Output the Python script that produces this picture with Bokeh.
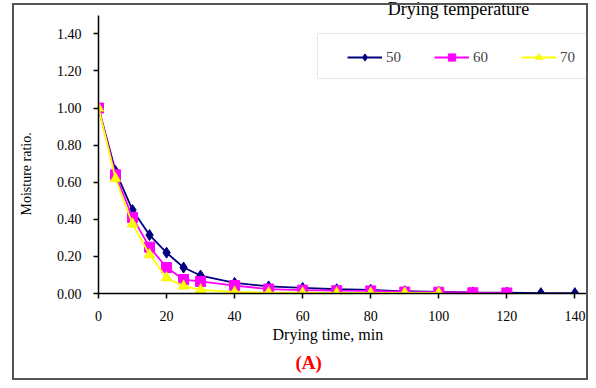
from bokeh.plotting import figure
from bokeh.models import (Legend, LegendItem, Label, BoxAnnotation, FixedTicker,
                          NumeralTickFormatter, Range1d, Title, InlineStyleSheet)
from bokeh.embed import file_html
from bokeh.resources import INLINE

# ---- data ----
time_50 = [0, 5, 10, 15, 20, 25, 30, 40, 50, 60, 70, 80, 90, 100, 110, 120, 130, 140]
mr_50 = [1.00, 0.66, 0.45, 0.315, 0.22, 0.14, 0.097, 0.057, 0.038, 0.030, 0.023, 0.020,
         0.012, 0.009, 0.006, 0.005, 0.002, 0.002]

time_60 = [0, 5, 10, 15, 20, 25, 30, 40, 50, 60, 70, 80, 90, 100, 110, 120]
mr_60 = [1.00, 0.64, 0.41, 0.25, 0.14, 0.075, 0.065, 0.043, 0.024, 0.018, 0.015, 0.014,
         0.008, 0.007, 0.004, 0.003]

time_70 = [0, 5, 10, 15, 20, 25, 30, 40, 50, 60, 70, 80, 90, 100]
mr_70 = [1.00, 0.62, 0.375, 0.21, 0.085, 0.04, 0.02, 0.008, 0.005, 0.004, 0.003, 0.003,
         0.003, 0.003]

series_names = ["50", "60", "70"]
x_ticks = [0, 20, 40, 60, 80, 100, 120, 140]
y_ticks = [0.0, 0.2, 0.4, 0.6, 0.8, 1.0, 1.2, 1.4]

SERIF = "Liberation Serif"

p = figure(width=588, height=380, output_backend="svg", toolbar_location=None,
           x_range=Range1d(0, 144), y_range=Range1d(0, 1.58),
           min_border_left=98, min_border_right=0, min_border_top=0, min_border_bottom=87)
p.outline_line_color = None
p.xgrid.visible = False
p.ygrid.visible = False
p.background_fill_color = "white"
p.border_fill_color = "white"

# outer chart border drawn over the whole figure
p.stylesheets = [InlineStyleSheet(css="""
:host::after {
  content: "";
  position: absolute;
  left: 12px; top: 3px; width: 576px; height: 377px;
  border: 2px solid #555555;
  box-sizing: border-box;
  pointer-events: none;
  z-index: 100;
}
""")]

for ax in (p.xaxis[0], p.yaxis[0]):
    ax.axis_line_color = "black"
    ax.axis_line_width = 1.5
    ax.major_tick_line_color = "black"
    ax.major_tick_line_width = 1.5
    ax.major_tick_out = 5
    ax.major_tick_in = 0
    ax.minor_tick_line_color = None
    ax.major_label_text_font = SERIF
    ax.major_label_text_font_size = "14px"
    ax.major_label_text_color = "black"

p.xaxis.ticker = FixedTicker(ticks=x_ticks)
p.yaxis.ticker = FixedTicker(ticks=y_ticks)
p.yaxis.bounds = (0, 1.5)
p.yaxis.formatter = NumeralTickFormatter(format="0.00")
p.xaxis.major_label_standoff = 12
p.yaxis.major_label_standoff = 12

# ---- series ----
r50l = p.line(time_50, mr_50, line_color="#000080", line_width=1.8)
r50m = p.scatter(time_50, mr_50, marker="diamond", size=11, fill_color="#000080",
                 line_color="#000080")
r60l = p.line(time_60, mr_60, line_color="#FF00FF", line_width=1.8)
r60m = p.scatter(time_60, mr_60, marker="square", size=10, fill_color="#FF00FF",
                 line_color="#FF00FF")
r70l = p.line(time_70, mr_70, line_color="#FFFF00", line_width=1.8)
r70m = p.scatter(time_70, mr_70, marker="triangle", size=11, fill_color="#FFFF00",
                 line_color="#E6E600", line_width=0.5)

# ---- legend box ----
p.add_layout(BoxAnnotation(left=219, right=510, bottom=215, top=260,
                           left_units="screen", right_units="screen",
                           bottom_units="screen", top_units="screen",
                           fill_color="white", fill_alpha=1.0,
                           line_color="#b0b0b0", line_width=1))

legend = Legend(items=[LegendItem(label=series_names[0], renderers=[r50l, r50m]),
                       LegendItem(label=series_names[1], renderers=[r60l, r60m]),
                       LegendItem(label=series_names[2], renderers=[r70l, r70m])],
                orientation="horizontal", location=(249, 227),
                padding=0, margin=0, spacing=20,
                glyph_width=35, glyph_height=18, label_standoff=4, label_width=28,
                label_text_font=SERIF, label_text_font_size="15px",
                border_line_alpha=0, background_fill_alpha=0)
p.add_layout(legend, "center")

# ---- texts ----
p.add_layout(Label(x=360, y=285, x_units="screen", y_units="screen",
                   text="Drying temperature", text_align="center",
                   text_baseline="alphabetic", text_font=SERIF,
                   text_font_size="18px", text_font_style="normal", text_color="black"))
p.add_layout(Title(text="Moisture ratio.", align="left", offset=78, vertical_align="top",
                   standoff=36, text_font=SERIF, text_font_size="14px",
                   text_font_style="normal", text_color="black"), "left")
p.add_layout(Title(text="Drying time,  min", align="left", offset=174, vertical_align="bottom",
                   standoff=0, text_font=SERIF, text_font_size="16px",
                   text_font_style="normal", text_color="black"), "below")
p.add_layout(Title(text="(A)", align="left", offset=197, vertical_align="bottom",
                   standoff=14, text_font=SERIF, text_font_size="19px",
                   text_font_style="bold", text_color="#FF0000"), "below")

open("out.html", "w").write(file_html(p, INLINE))
